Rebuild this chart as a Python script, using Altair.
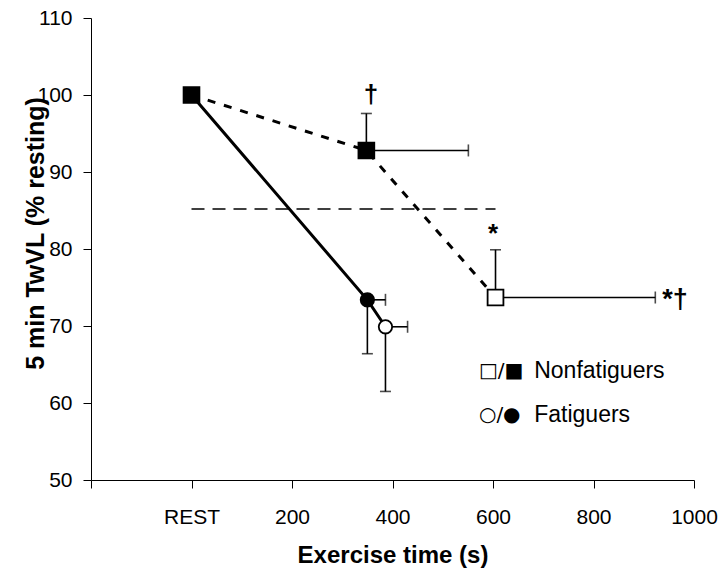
import altair as alt
import pandas as pd

# Mean 5-min TwVL (% of resting) against exercise time
nf_time = [0, 348, 605]
nf_val = [100.0, 92.8, 73.7]
nf_fill = ["filled", "filled", "open"]

f_time = [0, 350, 386]
f_val = [100.0, 73.4, 69.9]
f_fill = ["filled", "filled", "open"]

# SD bars: one-sided (up for nonfatiguers, down for fatiguers), time bars to the right
err_time = [348, 605, 350, 386]
err_val = [92.8, 73.7, 73.4, 69.9]
err_y_end = [97.6, 79.9, 66.4, 61.5]
err_x_end = [551, 923, 386, 430]

# Threshold line
thr_val = 85.2
thr_start, thr_end = 0, 605

# Significance marks above the bars
ann_text = ["\u2020", "*"]
ann_time = [357, 600]
ann_val = [100.0, 82.0]

# Significance mark beside the long time bar
side_text = ["*\u2020"]
side_time = [937]
side_val = [73.4]

# Key: symbol pairs and group names
key_sym = ["\u25a1/\u25a0", "\u25cb/\u25cf"]
key_text = ["Nonfatiguers", "Fatiguers"]
key_sym_time = [572, 572]
key_text_time = [682, 682]
key_val = [64.1, 58.5]

FONT = "Liberation Sans"

nf = pd.DataFrame({"t": nf_time, "v": nf_val, "fill": nf_fill})
fa = pd.DataFrame({"t": f_time, "v": f_val, "fill": f_fill})
err = pd.DataFrame({"t": err_time, "v": err_val, "y2": err_y_end, "x2": err_x_end})
thr = pd.DataFrame({"t": [thr_start], "t2": [thr_end], "v": [thr_val]})
ann = pd.DataFrame({"txt": ann_text, "t": ann_time, "v": ann_val})
side = pd.DataFrame({"txt": side_text, "t": side_time, "v": side_val})
key_s = pd.DataFrame({"txt": key_sym, "t": key_sym_time, "v": key_val})
key_t = pd.DataFrame({"txt": key_text, "t": key_text_time, "v": key_val})

x_scale = alt.Scale(domain=[-200, 1000], nice=False, zero=False)
y_scale = alt.Scale(domain=[50, 110], nice=False, zero=False)

x_axis = alt.Axis(
    title="Exercise time (s)",
    values=[-200, 0, 200, 400, 600, 800, 1000],
    labelExpr="datum.value == 0 ? 'REST' : (datum.value < 0 ? '' : datum.value)",
    labelFlush=False,
    grid=False, domainColor="black", tickColor="black", tickSize=8,
    labelFont=FONT, labelFontSize=21, labelColor="black", labelPadding=18,
    titleFont=FONT, titleFontSize=24, titleFontWeight="bold", titleColor="black",
    titlePadding=16,
)
y_axis = alt.Axis(
    title="5 min TwVL (% resting)",
    values=[50, 60, 70, 80, 90, 100, 110],
    grid=False, domainColor="black", tickColor="black", tickSize=8,
    labelFont=FONT, labelFontSize=21, labelColor="black", labelPadding=11,
    titleFont=FONT, titleFontSize=25, titleFontWeight="bold", titleColor="black",
    titleX=-43, titleY=215, titleAngle=270, titleBaseline="bottom", titleAlign="center",
)

X = alt.X("t:Q", scale=x_scale, axis=x_axis)
Y = alt.Y("v:Q", scale=y_scale, axis=y_axis)

threshold = alt.Chart(thr).mark_rule(
    color="black", strokeWidth=1.6, strokeDash=[13, 8]
).encode(x=X, x2="t2:Q", y=Y)

nf_line = alt.Chart(nf).mark_line(
    color="black", strokeWidth=3, strokeDash=[8, 9]
).encode(x=X, y=Y)

f_line = alt.Chart(fa).mark_line(color="black", strokeWidth=3).encode(x=X, y=Y)

v_bar = alt.Chart(err).mark_rule(color="black", strokeWidth=1.6).encode(x=X, y=Y, y2="y2:Q")
v_cap = alt.Chart(err).mark_tick(
    color="black", orient="horizontal", size=11, thickness=1.6
).encode(x=X, y=alt.Y("y2:Q", scale=y_scale))
h_bar = alt.Chart(err).mark_rule(color="black", strokeWidth=1.6).encode(x=X, x2="x2:Q", y=Y)
h_cap = alt.Chart(err).mark_tick(
    color="black", orient="vertical", size=12, thickness=1.6
).encode(x=alt.X("x2:Q", scale=x_scale), y=Y)

fill_scale = alt.Scale(domain=["filled", "open"], range=["black", "white"])

f_pts = alt.Chart(fa).mark_point(
    shape="circle", size=180, stroke="black", strokeWidth=1.8, opacity=1
).encode(x=X, y=Y, fill=alt.Fill("fill:N", scale=fill_scale, legend=None))

nf_pts = alt.Chart(nf).mark_point(
    shape="square", size=250, stroke="black", strokeWidth=1.8, opacity=1
).encode(x=X, y=Y, fill=alt.Fill("fill:N", scale=fill_scale, legend=None))

marks = alt.Chart(ann).mark_text(
    font=FONT, fontSize=26, fontWeight="bold", color="black",
    align="center", baseline="middle"
).encode(x=X, y=Y, text="txt:N")

side_marks = alt.Chart(side).mark_text(
    font=FONT, fontSize=27, fontWeight="bold", color="black",
    align="left", baseline="middle"
).encode(x=X, y=Y, text="txt:N")

key_sym_marks = alt.Chart(key_s).mark_text(
    font="DejaVu Sans", fontSize=20, color="black", align="left", baseline="middle"
).encode(x=X, y=Y, text="txt:N")

key_txt = alt.Chart(key_t).mark_text(
    font=FONT, fontSize=23, color="black", align="left", baseline="middle"
).encode(x=X, y=Y, text="txt:N")

chart = alt.layer(
    threshold, nf_line, f_line, v_bar, v_cap, h_bar, h_cap, f_pts, nf_pts,
    marks, side_marks, key_sym_marks, key_txt
).properties(
    width=603, height=462,
    autosize=alt.AutoSizeParams(type="none"),
    padding={"left": 91, "top": 18, "right": 30, "bottom": 101},
    background="white",
).configure_view(stroke=None)

chart.save("out.html", embed_options={"renderer": "svg", "actions": False})
